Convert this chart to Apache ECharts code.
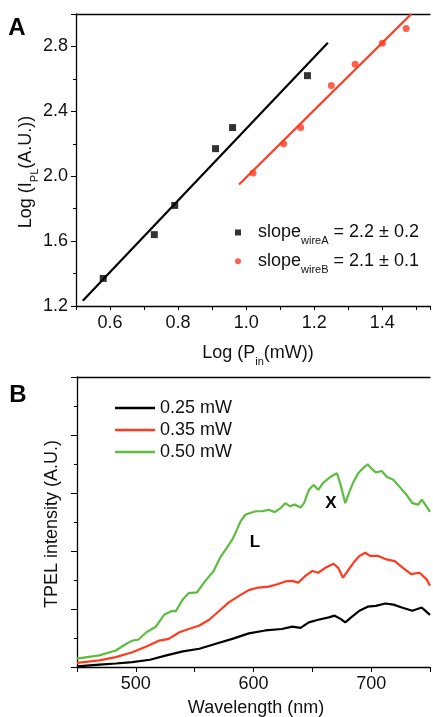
<!DOCTYPE html>
<html><head><meta charset="utf-8">
<script src="https://cdn.jsdelivr.net/npm/echarts@6/dist/echarts.min.js"></script>
<style>html,body{margin:0;padding:0;background:#fff}#c{width:433px;height:717px}</style>
</head><body><div id="c"></div>
<script>
// Panel A: log-log power dependence
const wireA_x = [0.58, 0.73, 0.79, 0.91, 0.96, 1.18];
const wireA_y = [1.37, 1.64, 1.82, 2.17, 2.30, 2.62];
const wireB_x = [1.02, 1.11, 1.16, 1.25, 1.32, 1.40, 1.47];
const wireB_y = [2.02, 2.20, 2.30, 2.56, 2.69, 2.82, 2.91];
const fitA_x = [0.52, 1.24];
const fitA_y = [1.233, 2.823];
const fitB_x = [0.979, 1.485];
const fitB_y = [1.949, 3.0];
const legendA = ['2.2 ± 0.2', '2.1 ± 0.1'];
// Panel B: TPEL spectra
const specNames = ['0.25 mW', '0.35 mW', '0.50 mW'];
const wl_black = [450,469,483,497,512,526,540,554,568,582,596,610,624,633,640,647,655,664,669,674,678,683,690,697,704,712,719,726,735,743,750];
const I_black  = [0.02,0.08,0.12,0.17,0.25,0.40,0.54,0.63,0.80,0.97,1.16,1.26,1.31,1.39,1.35,1.54,1.63,1.71,1.77,1.66,1.54,1.71,1.94,2.08,2.11,2.19,2.15,2.05,1.94,2.05,1.80];
const wl_red = [450,469,483,497,509,520,528,537,545,554,562,571,579,588,596,604,613,621,627,633,638,644,650,655,661,668,672,676,680,686,690,695,699,706,713,720,727,734,741,747,750];
const I_red  = [0.14,0.23,0.34,0.51,0.71,0.91,0.97,1.20,1.31,1.43,1.62,1.94,2.23,2.46,2.65,2.74,2.77,2.86,2.95,2.97,2.91,3.14,3.31,3.25,3.42,3.56,3.42,3.08,3.31,3.65,3.83,3.94,3.83,3.83,3.71,3.65,3.42,3.20,3.25,3.03,2.80];
const wl_green = [450,469,483,492,497,502,509,517,524,531,534,540,545,552,559,566,572,578,582,585,589,593,597,602,607,613,618,623,627,631,635,640,643,647,651,655,659,664,668,671,674,678,681,685,689,693,697,700,704,709,713,719,724,730,735,740,743,747,750];
const I_green  = [0.29,0.40,0.57,0.80,0.91,0.94,1.20,1.39,1.80,1.94,1.92,2.34,2.55,2.57,2.97,3.30,3.80,4.15,4.40,4.65,5.02,5.25,5.31,5.37,5.37,5.42,5.34,5.48,5.65,5.54,5.60,5.50,5.65,6.10,6.28,6.11,6.34,6.51,6.62,6.68,6.28,5.65,5.99,6.39,6.68,6.85,6.99,6.85,6.71,6.76,6.57,6.45,6.22,5.94,5.65,5.60,5.77,5.54,5.35];

const FF = '"Liberation Sans", Arial, sans-serif';
const RED = '#ff3b1f', GREEN = '#5cbd3e', TXT = '#111';
const zip = (a, b) => a.map((v, i) => [v, b[i]]);
const FS = 18;

const chart = echarts.init(document.getElementById('c'), null, {renderer: 'canvas'});
const lab = {fontFamily: FF, fontSize: FS, color: TXT};
const subRich = {
  a: {fontFamily: FF, fontSize: FS, lineHeight: 28, color: TXT, fill: TXT},
  s: {fontFamily: FF, fontSize: 11, lineHeight: 11, color: TXT, fill: TXT, verticalAlign: 'bottom'}
};
chart.setOption({
  animation: false,
  backgroundColor: '#fff',
  grid: [
    {left: 76, top: 14, width: 357, height: 292},
    {left: 77, top: 377, width: 356, height: 290}
  ],
  xAxis: [
    {type: 'value', gridIndex: 0, min: 0.5, max: 1.54, interval: 0.1,
     axisLine: {lineStyle: {color: '#000', width: 1.3}},
     axisTick: {length: 4, lineStyle: {color: '#000'}},
     splitLine: {show: false},
     axisLabel: Object.assign({margin: 8, formatter: v => (Math.round(v * 10) % 2 === 0 && v < 1.45) ? v.toFixed(1) : ''}, lab)},
    {type: 'value', gridIndex: 0, position: 'top', min: 0.5, max: 1.54,
     axisLine: {lineStyle: {color: '#000', width: 1.3}}, axisTick: {show: false}, axisLabel: {show: false}, splitLine: {show: false}},
    {type: 'value', gridIndex: 1, min: 450, max: 750, interval: 50,
     axisLine: {lineStyle: {color: '#000', width: 1.3}},
     axisTick: {length: 5, lineStyle: {color: '#000'}},
     splitLine: {show: false},
     axisLabel: Object.assign({margin: 8, formatter: v => (v % 100 === 0) ? String(v) : ''}, lab)},
    {type: 'value', gridIndex: 1, position: 'top', min: 450, max: 750,
     axisLine: {lineStyle: {color: '#000', width: 1.3}}, axisTick: {show: false}, axisLabel: {show: false}, splitLine: {show: false}}
  ],
  yAxis: [
    {type: 'value', gridIndex: 0, min: 1.2, max: 3.0, interval: 0.4,
     axisLine: {show: true, lineStyle: {color: '#000', width: 1.3}},
     axisTick: {show: true, length: 5, lineStyle: {color: '#000'}},
     minorTick: {show: true, splitNumber: 2, length: 3, lineStyle: {color: '#000'}},
     splitLine: {show: false},
     axisLabel: Object.assign({margin: 8, formatter: v => (Math.round(v * 10) % 4 === 0 && v < 2.95) ? v.toFixed(1) : ''}, lab)},
    {type: 'value', gridIndex: 1, min: 0, max: 10, interval: 2,
     axisLine: {show: true, lineStyle: {color: '#000', width: 1.3}},
     axisTick: {show: true, length: 6, lineStyle: {color: '#000'}},
     minorTick: {show: true, splitNumber: 2, length: 3, lineStyle: {color: '#000'}},
     splitLine: {show: false},
     axisLabel: {show: false}}
  ],
  legend: [
    {orient: 'vertical', left: 235, top: 223.5, padding: 0, itemWidth: 6, itemHeight: 6, itemGap: 5.8,
     data: [{name: 'wireA', icon: 'rect'}, {name: 'wireB', icon: 'circle'}],
     formatter: n => n === 'wireA'
        ? '{f|slope}{s|wireA}{a| = ' + legendA[0] + '}'
        : '{f|slope}{s|wireB}{a| = ' + legendA[1] + '}',
     textStyle: {fontFamily: FF, fontSize: FS, color: TXT,
       rich: {
         f: {fontFamily: FF, fontSize: FS, lineHeight: 28, color: TXT, padding: [0, 0, 0, 12]},
         a: {fontFamily: FF, fontSize: FS, lineHeight: 28, color: TXT},
         s: {fontFamily: FF, fontSize: 11, lineHeight: 11, color: TXT, verticalAlign: 'bottom'}
       }}},
    {orient: 'vertical', left: 115, top: 399, padding: 0, itemWidth: 40, itemHeight: 2.5, itemGap: 4,
     data: specNames.map(n => ({name: n, icon: 'rect'})),
     textStyle: {fontFamily: FF, fontSize: FS, color: TXT, lineHeight: 16}}
  ],
  series: [
    {name: 'wireA', type: 'scatter', xAxisIndex: 0, yAxisIndex: 0, symbol: 'rect', symbolSize: 7,
     itemStyle: {color: '#000'}, data: zip(wireA_x, wireA_y), z: 5},
    {name: 'wireB', type: 'scatter', xAxisIndex: 0, yAxisIndex: 0, symbol: 'circle', symbolSize: 7,
     itemStyle: {color: RED}, data: zip(wireB_x, wireB_y), z: 5},
    {name: 'fitA', type: 'line', xAxisIndex: 0, yAxisIndex: 0, showSymbol: false, symbol: 'none',
     lineStyle: {color: '#000', width: 2.2}, data: zip(fitA_x, fitA_y)},
    {name: 'fitB', type: 'line', xAxisIndex: 0, yAxisIndex: 0, showSymbol: false, symbol: 'none',
     lineStyle: {color: RED, width: 2.2}, data: zip(fitB_x, fitB_y)},
    {name: specNames[0], type: 'line', xAxisIndex: 2, yAxisIndex: 1, symbol: 'none', showSymbol: false,
     color: '#000', lineStyle: {color: '#000', width: 2.2}, data: zip(wl_black, I_black)},
    {name: specNames[1], type: 'line', xAxisIndex: 2, yAxisIndex: 1, symbol: 'none', showSymbol: false,
     color: RED, lineStyle: {color: RED, width: 2.2}, data: zip(wl_red, I_red)},
    {name: specNames[2], type: 'line', xAxisIndex: 2, yAxisIndex: 1, symbol: 'none', showSymbol: false,
     color: GREEN, lineStyle: {color: GREEN, width: 2.2}, data: zip(wl_green, I_green)}
  ],
  graphic: [
    {type: 'text', x: 17, y: 28, style: {text: 'A', align: 'center', verticalAlign: 'middle', font: 'bold 24px ' + FF, fill: '#000'}},
    {type: 'text', x: 18, y: 395, style: {text: 'B', align: 'center', verticalAlign: 'middle', font: 'bold 24px ' + FF, fill: '#000'}},
    {type: 'text', x: 26, y: 172, rotation: Math.PI / 2,
     style: {text: '{a|Log (I}{s|PL}{a|(A.U.))}', align: 'center', verticalAlign: 'middle', rich: subRich}},
    {type: 'text', x: 258, y: 353,
     style: {text: '{a|Log (P}{s|in}{a|(mW))}', align: 'center', verticalAlign: 'middle', rich: subRich}},
    {type: 'text', x: 52, y: 524, rotation: Math.PI / 2,
     style: {text: 'TPEL intensity (A.U.)', align: 'center', verticalAlign: 'middle', font: FS + 'px ' + FF, fill: TXT}},
    {type: 'text', x: 256, y: 708,
     style: {text: 'Wavelength (nm)', align: 'center', verticalAlign: 'middle', font: FS + 'px ' + FF, fill: TXT}},
    {type: 'text', x: 331, y: 503,
     style: {text: 'X', align: 'center', verticalAlign: 'middle', font: 'bold 17px ' + FF, fill: '#000'}},
    {type: 'text', x: 255, y: 542,
     style: {text: 'L', align: 'center', verticalAlign: 'middle', font: 'bold 17px ' + FF, fill: '#000'}}
  ]
});
</script></body></html>
